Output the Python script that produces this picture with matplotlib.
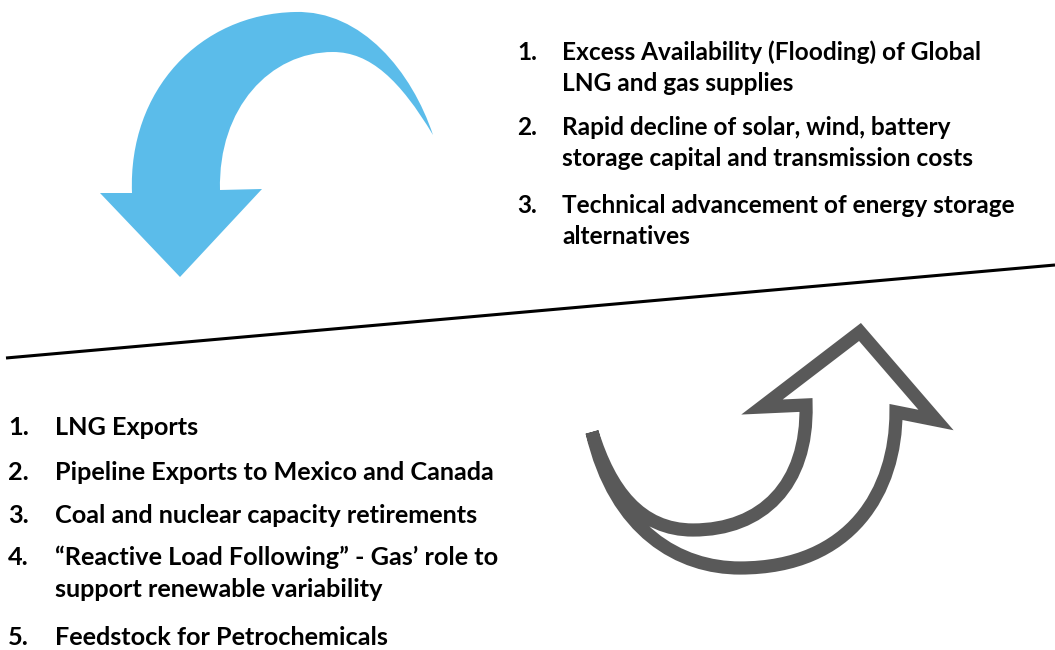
import matplotlib
matplotlib.use("Agg")
import matplotlib.pyplot as plt
from matplotlib.path import Path
from matplotlib.patches import PathPatch

# ----------- TEXT -----------
top_items = [
    ["Excess Availability (Flooding) of Global", "LNG and gas supplies"],
    ["Rapid decline of solar, wind, battery", "storage capital and transmission costs"],
    ["Technical advancement of energy storage", "alternatives"],
]
bottom_items = [
    ["LNG Exports"],
    ["Pipeline Exports to Mexico and Canada"],
    ["Coal and nuclear capacity retirements"],
    ["\u201cReactive Load Following\u201d - Gas\u2019 role to", "support renewable variability"],
    ["Feedstock for Petrochemicals"],
]

FONT = "Lato"
BLUE = "#5bbcea"
GREY = "#595959"

fig = plt.figure(figsize=(10.55, 6.5), dpi=100)
ax = fig.add_axes([0, 0, 1, 1])
ax.set_xlim(0, 1055)
ax.set_ylim(650, 0)
ax.axis("off")

# ----------- BLUE ARROW (down) -----------
M, C, L, Z = Path.MOVETO, Path.CURVE4, Path.LINETO, Path.CLOSEPOLY
blue_verts = [
    (132, 193),
    (128, 90), (200, 14), (295, 12),
    (362, 10), (412, 72), (433, 135),
    (400, 80), (370, 52), (333, 52),
    (270, 52), (218, 108), (220, 190),
    (262, 189), (180, 277), (100, 193), (132, 193),
]
blue_codes = [M, C, C, C, C, C, C, C, C, C, C, C, C, L, L, L, Z]
ax.add_patch(PathPatch(Path(blue_verts, blue_codes), facecolor=BLUE, edgecolor="none"))

# ----------- GREY ARROW (up, outline) -----------
grey_verts = [
    (592, 432),
    (615, 532), (680, 568), (740, 568),
    (852, 568), (896, 490), (896, 412),
    (936, 420), (860, 332), (762, 407), (806, 405),
    (808, 485), (762, 530), (693, 530),
    (640, 530), (610, 490), (592, 432),
]
grey_codes = [M, C, C, C, C, C, C, L, L, L, L, C, C, C, C, C, C]
ax.add_patch(PathPatch(Path(grey_verts, grey_codes), facecolor="none", edgecolor=GREY,
                       lw=9.5, joinstyle="miter", capstyle="butt"))

# ----------- DIVIDER -----------
ax.plot([6, 1055], [358, 265], color="black", lw=2.2, solid_capstyle="butt")

# ----------- LISTS -----------
def draw_list(items, x_num, x_txt, baselines, line_gap, fs):
    for i, (lines, y) in enumerate(zip(items, baselines)):
        ax.text(x_num, y, f"{i + 1}.", fontsize=fs, fontweight="bold", family=FONT, va="baseline")
        for j, s in enumerate(lines):
            ax.text(x_txt, y + j * line_gap, s, fontsize=fs, fontweight="bold", family=FONT,
                    va="baseline", color="black")

draw_list(top_items, 517, 562, [60, 135, 213], 31, 17.6)
draw_list(bottom_items, 8, 55, [435, 480, 523, 565, 645], 32, 18.2)

fig.savefig("out.png", dpi=100)
